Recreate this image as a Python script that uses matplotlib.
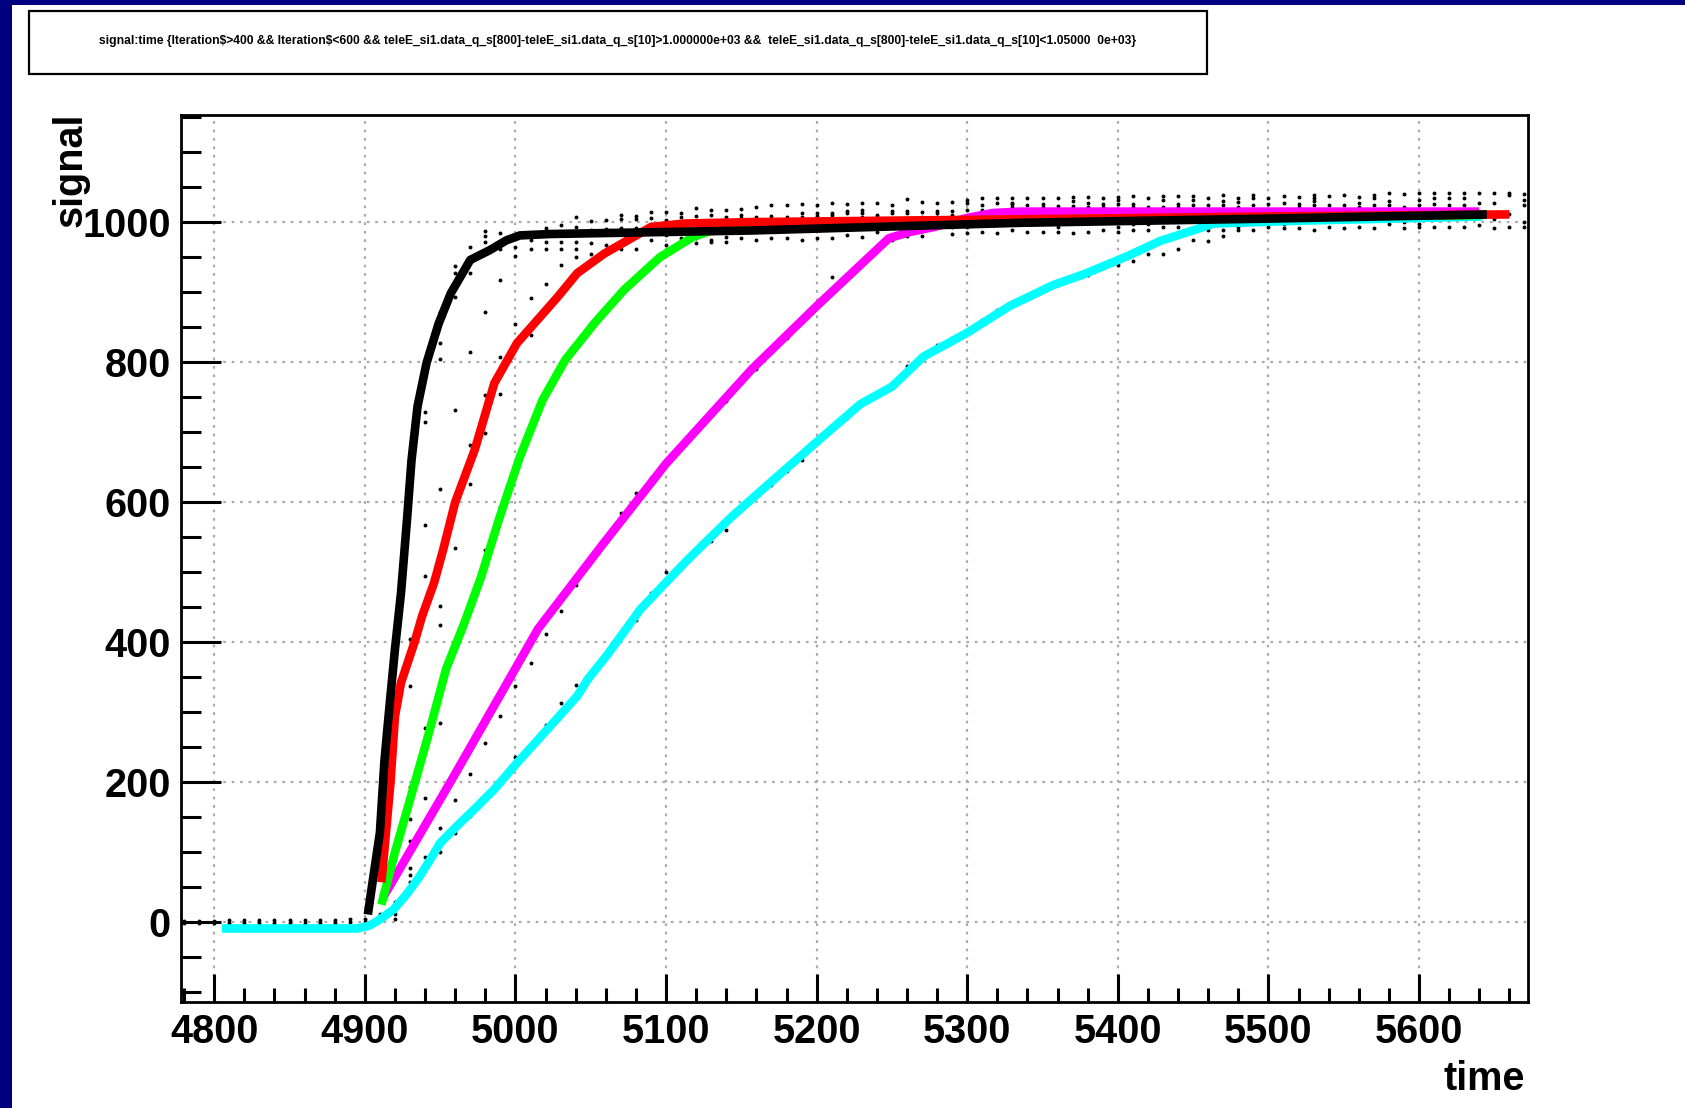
import matplotlib
matplotlib.use("Agg")
import matplotlib.pyplot as plt
from matplotlib.patches import Rectangle
from matplotlib.ticker import MultipleLocator

plt.rcParams["font.family"] = ["Liberation Sans", "DejaVu Sans"]

TITLE = ("signal:time {Iteration$>400 && Iteration$<600 && "
         "teleE_si1.data_q_s[800]-teleE_si1.data_q_s[10]>1.000000e+03 &&  "
         "teleE_si1.data_q_s[800]-teleE_si1.data_q_s[10]<1.05000  0e+03}")

# highlighted pulses (time, signal)
cyan_t = [4805, 4895, 4903, 4910, 4919, 4927, 4935, 4943, 4950, 4961, 4973, 4986, 5000,
          5021, 5041, 5048, 5061, 5083, 5114, 5143, 5164, 5200, 5229, 5250, 5271, 5300,
          5328, 5357, 5378, 5407, 5428, 5464, 5520, 5642]
cyan_s = [-9, -9, -5, 4, 18, 38, 61, 88, 113, 137, 162, 190, 225,
          275, 323, 347, 382, 447, 517, 578, 618, 686, 740, 765, 808, 842,
          880, 910, 926, 952, 973, 998, 1002, 1008]

magenta_t = [4912, 4960, 5015, 5057, 5100, 5157, 5200, 5248, 5262, 5278, 5300, 5317,
             5335, 5400, 5500, 5640]
magenta_s = [35, 212, 419, 537, 655, 790, 880, 977, 986, 993, 1006, 1013,
             1015, 1015, 1015, 1015]

green_t = [4911, 4920, 4930, 4942, 4954, 4966, 4977, 4989, 5003, 5018, 5033, 5053, 5072,
           5096, 5118, 5140, 5200, 5400, 5640]
green_s = [25, 100, 175, 266, 362, 427, 492, 575, 665, 746, 803, 857, 903,
           950, 979, 995, 1000, 1005, 1010]

red_t = [4911, 4912, 4917, 4920, 4924, 4933, 4938, 4946, 4952, 4960, 4973, 4986, 5001,
         5028, 5041, 5059, 5090, 5112, 5156, 5335, 5500, 5660]
red_s = [57, 80, 199, 294, 342, 400, 437, 485, 532, 600, 675, 770, 827,
         893, 927, 955, 993, 998, 1000, 1004, 1008, 1011]

black_t = [4902, 4906, 4910, 4913, 4916, 4920, 4924, 4928, 4931, 4935, 4941, 4949, 4957,
           4970, 4983, 4994, 5003, 5023, 5156, 5335, 5500, 5645]
black_s = [11, 70, 128, 230, 300, 390, 470, 575, 660, 737, 799, 855, 898,
           946, 960, 974, 981, 983, 988, 999, 1005, 1011]

# raw samples, one column every 10 time units
dot_col_t = [4780, 4790, 4800, 4810, 4820, 4830, 4840, 4850, 4860, 4870, 4880, 4890, 4900,
             4910, 4920, 4930, 4940, 4950, 4960, 4970, 4980, 4990, 5000,
             5010, 5020, 5030, 5040, 5050, 5060, 5070, 5080, 5090, 5100,
             5110, 5120, 5130, 5140, 5150, 5160, 5170, 5180, 5190, 5200,
             5210, 5220, 5230, 5240, 5250, 5260, 5270, 5280, 5290, 5300,
             5310, 5320, 5330, 5340, 5350, 5360, 5370, 5380, 5390, 5400,
             5410, 5420, 5430, 5440, 5450, 5460, 5470, 5480, 5490, 5500,
             5510, 5520, 5530, 5540, 5550, 5560, 5570, 5580, 5590, 5600,
             5610, 5620, 5630, 5640, 5650, 5660, 5670]
dot_col_s = [
    [2, -1], [2, -1], [2, -1], [3, -1], [3, -1], [3, -1], [3, -1], [3, -1],
    [3, -1], [3, -1], [3, -1], [4, 0], [5, 0],
    [6, 12], [4, 11, 29],
    [57, 67, 78, 116, 147, 193, 337, 405],
    [93, 177, 278, 494, 568, 715, 729],
    [100, 135, 285, 424, 451, 619, 805, 827, 872],
    [128, 174, 535, 731, 893, 927, 938],
    [151, 212, 458, 626, 682, 815, 928, 964],
    [256, 531, 699, 753, 871, 972, 980, 987],
    [294, 593, 755, 808, 918, 962, 984],
    [236, 337, 650, 855, 951, 965],
    [370, 839, 891, 962, 974, 985],
    [282, 412, 912, 962, 972, 992],
    [313, 444, 939, 962, 972, 984, 996],
    [339, 482, 950, 962, 972, 993, 1007],
    [355, 517, 955, 970, 984, 989, 1001],
    [385, 549, 968, 984, 990, 1003],
    [410, 585, 961, 984, 991, 1005, 1010],
    [431, 613, 962, 984, 991, 1004, 1009],
    [470, 635, 974, 986, 997, 1006, 1015],
    [500, 655, 968, 982, 997, 1003, 1014],
    [505, 680, 977, 993, 1008, 1013],
    [530, 700, 970, 977, 1009, 1020],
    [545, 725, 972, 975, 1010, 1017],
    [560, 745, 972, 979, 1007, 1018],
    [590, 770, 977, 993, 1006, 1010, 1019],
    [610, 790, 975, 993, 1007, 1021],
    [625, 815, 978, 989, 1005, 1009, 1024],
    [645, 835, 977, 993, 1004, 1008, 1025],
    [660, 860, 974, 993, 1008, 1013, 1026],
    [690, 880, 978, 991, 1009, 1013, 1025],
    [705, 921, 978, 993, 1010, 1013, 1027],
    [720, 920, 982, 998, 1013, 1016, 1026],
    [745, 940, 979, 993, 1008, 1013, 1017, 1027],
    [755, 960, 986, 993, 1008, 1010, 1028],
    [770, 975, 993, 1013, 1016, 1025],
    [795, 980, 993, 1013, 1016, 1033],
    [810, 980, 989, 1008, 1015, 1029],
    [825, 993, 1008, 1013, 1016, 1028],
    [835, 983, 993, 1010, 1016, 1029],
    [845, 985, 993, 1008, 1017, 1028, 1032],
    [860, 986, 1008, 1017, 1025, 1034],
    [875, 985, 1008, 1028, 1034],
    [885, 989, 1022, 1026, 1028, 1034],
    [895, 986, 1024, 1035],
    [905, 986, 1021, 1026, 1034],
    [910, 986, 993, 1023, 1034],
    [920, 984, 1023, 1030, 1036],
    [925, 986, 1022, 1028, 1036],
    [935, 989, 1022, 1026, 1034],
    [939, 986, 993, 1026, 1031, 1036],
    [945, 989, 998, 1022, 1026, 1037],
    [954, 989, 998, 1022, 1034],
    [955, 993, 1022, 1031, 1038],
    [962, 993, 1022, 1026, 1037],
    [974, 1024, 1031, 1038],
    [973, 989, 1024, 1035],
    [980, 989, 1024, 1030, 1039],
    [989, 993, 1022, 1029, 1034],
    [989, 1024, 1034, 1039],
    [993, 998, 1026, 1035],
    [992, 998, 1027, 1038],
    [991, 1022, 1026, 1036],
    [989, 1024, 1030, 1034, 1039],
    [993, 1024, 1038],
    [991, 1024, 1039],
    [993, 1022, 1028, 1036],
    [991, 1024, 1034, 1039],
    [998, 1024, 1030, 1041],
    [992, 1000, 1022, 1040],
    [993, 998, 1024, 1032, 1041],
    [993, 1005, 1026, 1034, 1041],
    [993, 1024, 1034, 1041],
    [993, 1024, 1034, 1041],
    [996, 1027, 1041],
    [991, 1005, 1028, 1041],
    [993, 1012, 1039, 1042],
    [993, 1000, 1024, 1031, 1040],
]

W, H, DPI = 1685, 1108, 100
fig = plt.figure(figsize=(W / DPI, H / DPI), dpi=DPI, facecolor="white")

# navy frame of the canvas
fig.patches.append(Rectangle((0, 0), 12 / W, 1, transform=fig.transFigure,
                             facecolor="#000080", edgecolor="none", zorder=0))
fig.patches.append(Rectangle((0, 1 - 5 / H), 1, 5 / H, transform=fig.transFigure,
                             facecolor="#000080", edgecolor="none", zorder=0))

# title box
fig.patches.append(Rectangle((29 / W, 1 - 74 / H), (1207 - 29) / W, 63 / H,
                             transform=fig.transFigure, facecolor="white",
                             edgecolor="black", linewidth=1.6, zorder=1))
fig.text(618 / W, 1 - 41 / H, TITLE, ha="center", va="center",
         fontsize=8.75, fontweight="bold", parse_math=False)

ax = fig.add_axes([180.5 / W, 1 - 1002 / H, 1347 / W, 887 / H])

dot_t, dot_s = [], []
for t, col in zip(dot_col_t, dot_col_s):
    for s in col:
        dot_t.append(t)
        dot_s.append(s)
ax.plot(dot_t, dot_s, "o", color="black", markersize=2.8, markeredgewidth=0, zorder=2)

curves = [(cyan_t, cyan_s, "#00ffff"), (magenta_t, magenta_s, "#ff00ff"),
          (green_t, green_s, "#00ff00"), (red_t, red_s, "#ff0000"),
          (black_t, black_s, "black")]
for t, s, c in curves:
    ax.plot(t, s, color=c, linewidth=6.2, solid_capstyle="butt",
            solid_joinstyle="round", zorder=3)

ax.set_xlim(4777.6, 5672)
ax.set_ylim(-114, 1153)

ax.xaxis.set_major_locator(MultipleLocator(100))
ax.xaxis.set_minor_locator(MultipleLocator(20))
ax.yaxis.set_major_locator(MultipleLocator(200))
ax.yaxis.set_minor_locator(MultipleLocator(50))

ax.grid(True, which="major", color="#aaaaaa", linestyle=(0, (1.2, 2.6)),
        linewidth=1.6, zorder=1)
ax.set_axisbelow(True)

ax.tick_params(axis="x", which="major", direction="in", length=20, width=2.2,
               top=False, labelsize=28.5, pad=8)
ax.tick_params(axis="x", which="minor", direction="in", length=10, width=2.2, top=False)
ax.tick_params(axis="y", which="major", direction="in", length=29, width=2.2,
               right=False, labelsize=28.5, pad=7)
ax.tick_params(axis="y", which="minor", direction="in", length=14.5, width=2.2, right=False)
for lab in ax.get_xticklabels() + ax.get_yticklabels():
    lab.set_fontweight("bold")
for sp in ax.spines.values():
    sp.set_linewidth(2)

fig.text(71 / W, 1 - 113 / H, "signal", rotation=90, ha="center", va="top",
         fontsize=28.5, fontweight="bold")
fig.text(1525 / W, 1 - 1090 / H, "time", ha="right", va="baseline",
         fontsize=28.5, fontweight="bold")

fig.savefig("out.png", dpi=DPI, facecolor="white")
